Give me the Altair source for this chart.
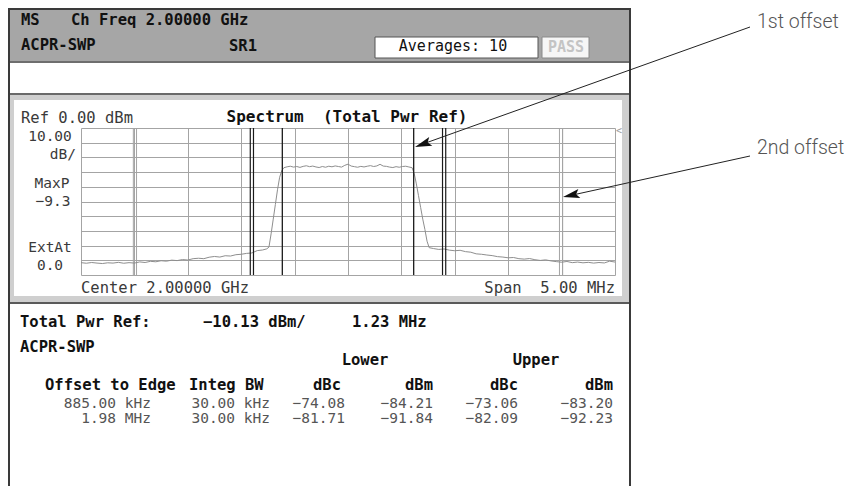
import altair as alt
import pandas as pd

# ---------------- data ----------------
# spectrum trace: frequency offset from centre (MHz) and level (dBm)
left_floor_mhz = [-2.50, -2.45, -2.40, -2.35, -2.30, -2.25, -2.20, -2.15, -2.10, -2.05,
                  -2.00, -1.95, -1.90, -1.85, -1.80, -1.75, -1.70, -1.65, -1.60, -1.55,
                  -1.50, -1.45, -1.40, -1.35, -1.30, -1.25, -1.20, -1.15, -1.10, -1.05,
                  -1.00, -0.95, -0.90, -0.85, -0.80, -0.76]
left_floor_dbm = [-91.6, -92.0, -91.5, -91.9, -92.2, -91.7, -91.9, -91.4, -92.0, -91.6,
                  -91.9, -91.1, -91.5, -90.7, -91.0, -90.3, -90.6, -89.9, -90.2, -89.5,
                  -89.8, -88.9, -88.6, -88.9, -87.9, -87.4, -87.8, -86.9, -87.1, -86.2,
                  -85.9, -85.3, -85.0, -83.4, -83.0, -82.2]
rise_mhz = [-0.74, -0.72, -0.70, -0.68, -0.66, -0.64, -0.62, -0.60]
rise_dbm = [-81.0, -72.0, -62.0, -52.0, -42.0, -33.5, -29.0, -27.0]
plateau_mhz = [-0.57, -0.54, -0.51, -0.48, -0.45, -0.42, -0.39, -0.36, -0.33, -0.30,
               -0.27, -0.24, -0.21, -0.18, -0.15, -0.12, -0.09, -0.06, -0.03, 0.00,
               0.03, 0.06, 0.09, 0.12, 0.15, 0.18, 0.21, 0.24, 0.27, 0.30,
               0.33, 0.36, 0.39, 0.42, 0.45, 0.48, 0.51, 0.54, 0.57]
plateau_dbm = [-26.4, -26.0, -26.6, -26.2, -26.8, -26.1, -25.7, -26.3, -25.9, -26.5,
               -26.9, -26.2, -26.7, -26.0, -26.4, -25.8, -26.2, -26.6, -25.4, -24.6,
               -25.9, -26.3, -26.7, -26.1, -26.5, -26.0, -25.6, -26.2, -25.8, -24.7,
               -25.9, -26.1, -26.6, -26.9, -26.3, -26.7, -26.2, -26.0, -26.5]
fall_mhz = [0.60, 0.62, 0.64, 0.66, 0.68, 0.70, 0.72, 0.74, 0.76]
fall_dbm = [-27.0, -31.0, -38.0, -46.0, -54.0, -62.0, -69.0, -77.0, -81.4]
right_floor_mhz = [0.80, 0.85, 0.90, 0.95, 1.00, 1.05, 1.10, 1.15, 1.20, 1.25,
                   1.30, 1.35, 1.40, 1.45, 1.50, 1.55, 1.60, 1.65, 1.70, 1.75,
                   1.80, 1.85, 1.90, 1.95, 2.00, 2.05, 2.10, 2.15, 2.20, 2.25,
                   2.30, 2.35, 2.40, 2.45, 2.50]
right_floor_dbm = [-82.0, -82.6, -82.3, -83.1, -83.5, -83.2, -84.1, -84.5, -85.6, -85.9,
                   -86.4, -86.8, -87.5, -87.8, -88.3, -88.1, -88.9, -89.2, -88.8, -89.6,
                   -90.1, -89.7, -90.4, -90.9, -91.3, -90.8, -91.6, -91.2, -91.7, -91.4,
                   -91.9, -91.5, -91.8, -90.6, -91.2]

# marker lines (MHz from centre)
channel_edges_mhz = [-0.615, 0.615]
offset1_edges_mhz = [-0.915, -0.885, 0.885, 0.915]
offset2_edges_mhz = [-2.01, -1.98, 1.98, 2.01]

# grid
x_grid_mhz = [-2.5, -2.0, -1.5, -1.0, -0.5, 0.0, 0.5, 1.0, 1.5, 2.0, 2.5]
y_grid_dbm = [-100, -90, -80, -70, -60, -50, -40, -30, -20, -10, 0]

# result table
offset_labels = ["885.00 kHz", "1.98 MHz"]
integ_bw_labels = ["30.00 kHz", "30.00 kHz"]
lower_dbc = [-74.08, -81.71]
lower_dbm = [-84.21, -91.84]
upper_dbc = [-73.06, -82.09]
upper_dbm = [-83.20, -92.23]

# ---------------- build ----------------
freq = left_floor_mhz + rise_mhz + plateau_mhz + fall_mhz + right_floor_mhz
level = left_floor_dbm + rise_dbm + plateau_dbm + fall_dbm + right_floor_dbm
trace = pd.DataFrame({"f": freq, "dbm": level})

MONO = "DejaVu Sans Mono"
NB = "\u00a0"
OX, OY = 81, 128          # page position of plot origin
PW, PH = 534, 147         # plot area
TOTAL_W, TOTAL_H = 845, 478
ONE = pd.DataFrame({"k": [0]})

XS = alt.Scale(domain=[-2.5, 2.5], nice=False, zero=False)
YS = alt.Scale(domain=[-100, 0], nice=False, zero=False)
XA = alt.Axis(values=x_grid_mhz, grid=True, gridColor="#a4a4a4", gridWidth=1,
              labels=False, ticks=False, domain=False, title=None)
YA = alt.Axis(values=y_grid_dbm, grid=True, gridColor="#a4a4a4", gridWidth=1,
              labels=False, ticks=False, domain=False, title=None)


def X():
    return alt.X("f:Q", scale=XS, axis=XA)


def Y():
    return alt.Y("dbm:Q", scale=YS, axis=YA)


def rect(x1, y1, x2, y2, **kw):
    return alt.Chart(ONE).mark_rect(**kw).encode(
        x=alt.value(x1 - OX), x2=alt.value(x2 - OX),
        y=alt.value(y1 - OY), y2=alt.value(y2 - OY))


def seg(x1, y1, x2, y2, color="#222", width=1.0):
    return alt.Chart(ONE).mark_rule(color=color, strokeWidth=width).encode(
        x=alt.value(x1 - OX), x2=alt.value(x2 - OX),
        y=alt.value(y1 - OY), y2=alt.value(y2 - OY))


def label(s, x, y, size=15.5, weight="normal", color="#3a3a3a", align="left", font=MONO):
    return alt.Chart(ONE).mark_text(
        text=s, fontSize=size, fontWeight=weight, color=color, align=align,
        baseline="middle", font=font).encode(x=alt.value(x - OX), y=alt.value(y - OY))


def arrowhead(x, y, angle):
    return alt.Chart(ONE).mark_point(
        shape="M0,0L-2,-0.55L-1.6,0L-2,0.55Z", filled=True, color="#111",
        opacity=1, size=280, angle=angle).encode(x=alt.value(x - OX), y=alt.value(y - OY))


def fmt(v):
    return f"{v:.2f}".replace("-", "\u2212")


layers = []
# instrument frame
layers.append(rect(9, 9, 630, 61, color="#a6a6a6"))
layers.append(rect(9, 61, 630, 63, color="#6e6e6e"))
layers.append(rect(9, 93, 630, 95, color="#6a6a6a"))
layers.append(rect(9, 95, 630, 100, color="#cfcfcf"))
layers.append(rect(9, 95, 14, 302, color="#cfcfcf"))
layers.append(rect(622, 95, 630, 302, color="#cfcfcf"))
layers.append(rect(9, 296, 630, 302, color="#cfcfcf"))
layers.append(rect(9, 302, 630, 304, color="#5a5a5a"))
layers.append(rect(9, 9, 630, 520, filled=False, stroke="#3a3a3a", strokeWidth=2))
# header boxes
layers.append(rect(375, 37, 538, 58, color="#ffffff", stroke="#555555", strokeWidth=1))
layers.append(rect(542, 37, 589, 58, color="#f6f6f6", stroke="#8a8a8a", strokeWidth=1))

# spectrum
layers.append(alt.Chart(pd.DataFrame({"f": offset2_edges_mhz})).mark_rule(
    color="#a4a4a4", strokeWidth=1).encode(x=X()))
layers.append(alt.Chart(trace).mark_line(color="#8e8e8e", strokeWidth=1).encode(x=X(), y=Y()))
layers.append(alt.Chart(pd.DataFrame({"f": offset1_edges_mhz})).mark_rule(
    color="#1a1a1a", strokeWidth=1.2).encode(x=X()))
layers.append(alt.Chart(pd.DataFrame({"f": channel_edges_mhz})).mark_rule(
    color="#1a1a1a", strokeWidth=1.3).encode(x=X()))

# header text
layers.append(label("MS", 21, 20, weight="bold", color="#111"))
layers.append(label("Ch Freq 2.00000 GHz", 71, 20, weight="bold", color="#111"))
layers.append(label("ACPR-SWP", 21, 45, weight="bold", color="#111"))
layers.append(label("SR1", 229, 46, weight="bold", color="#111"))
layers.append(label("Averages: 10", 453, 46, size=15, color="#111", align="center"))
layers.append(label("PASS", 566, 47, size=15, weight="bold", color="#c4c4c4", align="center"))

# spectrum panel text
layers.append(label("Ref 0.00 dBm", 21, 118))
layers.append(label("Spectrum" + NB + " (Total Pwr Ref)", 347, 117, size=16, weight="bold",
                    color="#111", align="center"))
layers.append(label("10.00", 50, 137, size=14.5, align="center"))
layers.append(label("dB/", 76, 155, size=14.5, align="right"))
layers.append(label("MaxP", 52, 184, size=14.5, align="center"))
layers.append(label("\u22129.3", 53, 202, size=14.5, align="center"))
layers.append(label("ExtAt", 50, 248, size=14.5, align="center"))
layers.append(label("0.0", 50, 266, size=14.5, align="center"))
layers.append(label("Center 2.00000 GHz", 81, 288))
layers.append(label("Span" + NB + " 5.00 MHz", 615, 288, align="right"))
layers.append(label("<", 619, 131, size=10, color="#9a9a9a", align="center"))

# results table
layers.append(label("Total Pwr Ref:", 20, 322, weight="bold", color="#111"))
layers.append(label("\u221210.13 dBm/", 203, 322, weight="bold", color="#111"))
layers.append(label("1.23 MHz", 352, 322, weight="bold", color="#111"))
layers.append(label("ACPR-SWP", 20, 347, weight="bold", color="#111"))
layers.append(label("Lower", 365, 360, weight="bold", color="#111", align="center"))
layers.append(label("Upper", 536, 360, weight="bold", color="#111", align="center"))
layers.append(label("Offset to Edge", 45, 385, weight="bold", color="#111"))
layers.append(label("Integ BW", 189, 385, weight="bold", color="#111"))
layers.append(label("dBc", 341, 385, weight="bold", color="#111", align="right"))
layers.append(label("dBm", 433, 385, weight="bold", color="#111", align="right"))
layers.append(label("dBc", 518, 385, weight="bold", color="#111", align="right"))
layers.append(label("dBm", 613, 385, weight="bold", color="#111", align="right"))
row_y = [404, 419]
for i in range(len(offset_labels)):
    yy = row_y[i]
    layers.append(label(offset_labels[i], 151, yy, size=14.5, color="#555", align="right"))
    layers.append(label(integ_bw_labels[i], 270, yy, size=14.5, color="#555", align="right"))
    layers.append(label(fmt(lower_dbc[i]), 345, yy, size=14.5, color="#555", align="right"))
    layers.append(label(fmt(lower_dbm[i]), 433, yy, size=14.5, color="#555", align="right"))
    layers.append(label(fmt(upper_dbc[i]), 518, yy, size=14.5, color="#555", align="right"))
    layers.append(label(fmt(upper_dbm[i]), 613, yy, size=14.5, color="#555", align="right"))

# annotations
layers.append(seg(750, 27, 420, 145, color="#222", width=1))
layers.append(arrowhead(415, 147, 160.4))
layers.append(seg(750, 156, 568, 196, color="#222", width=1))
layers.append(arrowhead(563, 197, 167.6))
layers.append(label("1st offset", 757, 22, size=19.5, weight=300, color="#555", font="Roboto"))
layers.append(label("2nd offset", 757, 148, size=19.5, weight=300, color="#555", font="Roboto"))

chart = alt.layer(*layers).properties(
    width=PW, height=PH,
    autosize=alt.AutoSizeParams(type="none"),
    padding={"left": OX - 8, "top": OY - 8, "right": TOTAL_W - (OX - 8) - PW,
             "bottom": TOTAL_H - (OY - 8) - PH},
    background="#ffffff",
).configure_view(strokeWidth=0)

chart.save("out.html", embed_options={"renderer": "svg", "actions": False})
